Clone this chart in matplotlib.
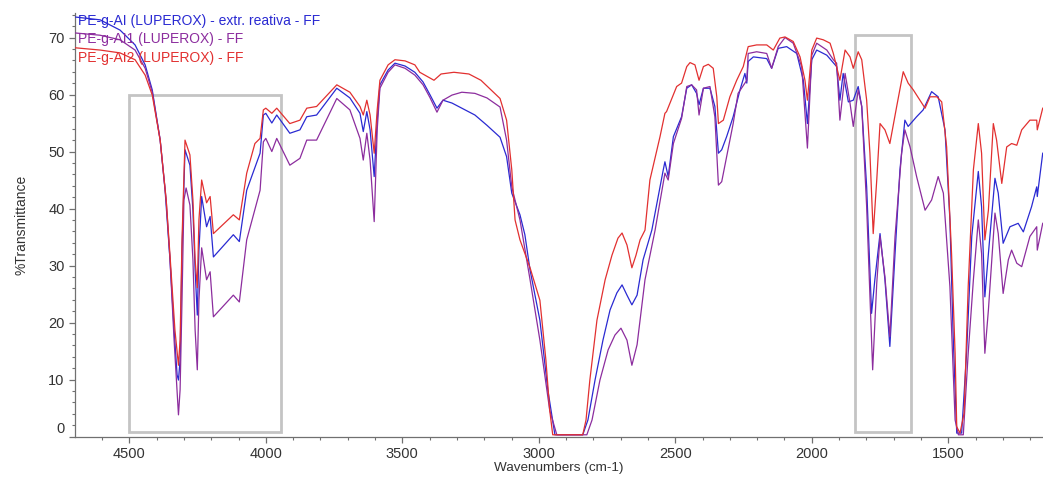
import matplotlib
matplotlib.use("Agg")
import matplotlib.pyplot as plt
from matplotlib.patches import Rectangle
from matplotlib.ticker import MultipleLocator
from matplotlib.transforms import ScaledTranslation

# ---- spectra: wavenumber (cm-1) and %T ----
wn_ai = [4699, 4607, 4534, 4479, 4442, 4416, 4387, 4369, 4351, 4336, 4325, 4320, 4314, 4307,
         4296, 4278, 4267, 4259, 4251, 4245, 4235, 4217, 4204, 4192, 4119, 4097, 4070, 4021,
         4009, 4000, 3978, 3960, 3912, 3875, 3850, 3814, 3740, 3692, 3655, 3643, 3630, 3618,
         3603, 3592, 3582, 3552, 3527, 3490, 3454, 3424, 3398, 3373, 3351, 3318, 3282, 3234,
         3190, 3142, 3118, 3099, 3069, 3051, 3032, 2996, 2967, 2941, 2839, 2820, 2794, 2765,
         2739, 2714, 2695, 2677, 2659, 2640, 2618, 2586, 2544, 2538, 2526, 2507, 2477, 2458,
         2440, 2422, 2413, 2397, 2373, 2355, 2342, 2330, 2312, 2288, 2263, 2245, 2238, 2233,
         2214, 2165, 2147, 2123, 2092, 2055, 2031, 2016, 2000, 1982, 1945, 1909, 1897, 1885,
         1866, 1848, 1830, 1817, 1799, 1781, 1769, 1750, 1732, 1714, 1695, 1677, 1659, 1647,
         1616, 1592, 1561, 1537, 1512, 1494, 1482, 1469, 1451, 1433, 1414, 1390, 1378, 1366,
         1353, 1329, 1317, 1299, 1274, 1244, 1225, 1195, 1176, 1174, 1154]
t_ai = [73.6, 73.1, 71.3, 68.7, 65.2, 60.8, 52.0, 43.2, 31.0, 18.7, 10.8, 9.9, 13.4, 32.7,
        50.3, 47.6, 39.7, 29.2, 21.3, 32.7, 42.1, 36.8, 38.6, 31.5, 35.4, 34.2, 43.2, 49.7,
        56.4, 56.7, 55.0, 56.4, 53.2, 53.8, 56.1, 56.4, 61.1, 59.4, 56.7, 53.5, 57.0, 53.8,
        45.6, 55.5, 61.7, 64.3, 65.5, 65.0, 63.9, 62.2, 59.9, 57.6, 59.0, 58.5, 57.6, 56.4,
        54.6, 52.5, 49.1, 42.7, 38.9, 35.4, 29.2, 20.4, 8.2, 0.3, 0.3, 2.9, 9.9, 16.9,
        22.2, 25.2, 26.6, 24.8, 23.1, 24.8, 31.0, 36.2, 46.8, 48.2, 45.6, 52.6, 56.1, 61.1,
        61.7, 60.2, 58.2, 61.1, 61.1, 57.9, 49.7, 50.3, 52.6, 56.1, 60.8, 63.7, 62.0, 65.8,
        66.6, 66.3, 64.6, 68.1, 68.4, 67.2, 62.5, 54.9, 66.1, 67.8, 66.9, 64.9, 59.0, 63.7,
        58.7, 59.0, 61.4, 57.9, 43.8, 21.6, 27.5, 35.6, 27.5, 15.8, 32.1, 46.8, 55.5, 54.4,
        56.1, 57.3, 60.5, 59.6, 53.8, 38.0, 17.5, 0.6, 0.6, 14.6, 35.1, 46.5, 40.3, 24.5,
        32.1, 45.3, 42.7, 33.9, 36.8, 37.4, 35.9, 40.3, 43.8, 42.1, 49.7]

wn_ai1 = [4699, 4607, 4534, 4479, 4442, 4416, 4387, 4365, 4351, 4336, 4320, 4314, 4307, 4300,
          4292, 4278, 4267, 4259, 4251, 4245, 4235, 4217, 4204, 4192, 4119, 4097, 4070, 4021,
          4009, 4000, 3978, 3960, 3912, 3875, 3850, 3814, 3740, 3692, 3655, 3643, 3630, 3618,
          3603, 3592, 3582, 3552, 3527, 3490, 3454, 3424, 3398, 3373, 3351, 3318, 3282, 3234,
          3190, 3142, 3118, 3099, 3069, 3032, 2996, 2960, 2934, 2824, 2805, 2776, 2746, 2721,
          2699, 2677, 2659, 2640, 2611, 2574, 2538, 2526, 2507, 2477, 2458, 2440, 2422, 2413,
          2397, 2373, 2355, 2342, 2330, 2312, 2288, 2270, 2238, 2233, 2202, 2165, 2147, 2123,
          2098, 2068, 2037, 2016, 2000, 1982, 1945, 1921, 1909, 1897, 1878, 1860, 1848, 1830,
          1817, 1799, 1777, 1762, 1750, 1732, 1714, 1695, 1671, 1659, 1640, 1616, 1585, 1561,
          1537, 1518, 1494, 1475, 1463, 1445, 1427, 1408, 1390, 1378, 1366, 1353, 1329, 1317,
          1299, 1280, 1268, 1249, 1231, 1201, 1176, 1174, 1154]
t_ai1 = [70.8, 70.4, 69.6, 67.8, 64.6, 60.4, 52.0, 41.5, 31.0, 16.9, 3.8, 8.2, 23.9, 41.5,
         43.6, 40.6, 31.0, 18.7, 11.7, 23.9, 33.1, 27.5, 28.9, 21.0, 24.8, 23.6, 34.5, 43.2,
         51.7, 52.3, 50.0, 52.3, 47.6, 48.8, 52.0, 52.0, 59.3, 57.3, 52.3, 48.5, 53.2, 48.5,
         37.7, 53.8, 61.1, 63.9, 65.2, 64.6, 63.4, 61.7, 59.4, 56.9, 59.0, 59.9, 60.4, 60.2,
         59.4, 57.8, 52.0, 43.8, 38.0, 27.5, 16.9, 4.6, 0.3, 0.3, 2.9, 9.9, 15.2, 17.8,
         19.0, 16.9, 12.5, 16.1, 27.5, 36.2, 46.2, 45.0, 51.4, 55.8, 61.4, 61.7, 60.8, 56.4,
         61.1, 61.4, 56.1, 44.1, 44.7, 49.1, 54.9, 60.2, 62.5, 67.2, 67.5, 67.2, 64.6, 68.4,
         70.0, 69.0, 64.9, 50.6, 66.9, 69.0, 67.8, 66.1, 65.5, 55.5, 63.7, 58.5, 54.4, 60.8,
         57.9, 40.3, 11.7, 26.9, 35.1, 28.0, 17.5, 35.1, 49.7, 53.8, 50.8, 45.6, 39.7, 41.5,
         45.6, 42.7, 26.3, 2.9, 0.3, 0.3, 14.6, 27.5, 38.0, 32.1, 14.6, 22.2, 39.2, 35.6,
         25.1, 31.0, 32.7, 30.4, 29.8, 35.1, 36.8, 32.7, 37.4]

wn_ai2 = [4699, 4607, 4534, 4479, 4442, 4416, 4387, 4365, 4351, 4333, 4320, 4314, 4307, 4296,
          4278, 4267, 4259, 4251, 4245, 4235, 4217, 4204, 4192, 4119, 4097, 4070, 4040, 4021,
          4009, 4000, 3978, 3960, 3912, 3875, 3850, 3814, 3740, 3692, 3655, 3643, 3630, 3618,
          3603, 3592, 3582, 3552, 3527, 3490, 3454, 3436, 3410, 3384, 3358, 3311, 3256, 3212,
          3175, 3142, 3118, 3099, 3087, 3069, 3032, 2996, 2974, 2960, 2949, 2839, 2827, 2813,
          2787, 2757, 2732, 2710, 2695, 2677, 2659, 2644, 2629, 2611, 2593, 2556, 2538, 2532,
          2495, 2477, 2458, 2446, 2428, 2413, 2397, 2379, 2361, 2348, 2342, 2324, 2300, 2275,
          2251, 2233, 2202, 2165, 2141, 2117, 2098, 2068, 2043, 2025, 2016, 2000, 1982, 1958,
          1933, 1921, 1897, 1878, 1860, 1848, 1830, 1817, 1799, 1787, 1775, 1762, 1750, 1732,
          1714, 1689, 1665, 1647, 1628, 1604, 1585, 1567, 1542, 1524, 1506, 1488, 1475, 1469,
          1457, 1442, 1427, 1408, 1390, 1378, 1366, 1353, 1335, 1323, 1304, 1286, 1268, 1249,
          1231, 1201, 1176, 1174, 1154]
t_ai2 = [68.2, 67.8, 67.3, 66.1, 63.4, 59.9, 52.0, 41.5, 31.8, 18.7, 12.5, 16.9, 34.5, 52.0,
         49.4, 41.5, 31.0, 26.1, 38.0, 45.0, 41.0, 42.1, 35.6, 38.9, 38.0, 46.2, 51.4, 52.3,
         57.3, 57.6, 56.7, 57.6, 54.9, 55.5, 57.6, 57.9, 61.7, 60.4, 57.9, 56.4, 59.0, 56.4,
         49.7, 57.3, 62.5, 65.2, 66.1, 65.9, 65.2, 63.9, 63.2, 62.5, 63.6, 63.9, 63.6, 62.5,
         60.8, 59.3, 55.5, 46.8, 38.0, 34.5, 29.6, 23.9, 13.4, 4.6, 0.3, 0.3, 2.9, 9.9,
         20.4, 27.5, 31.8, 34.8, 35.7, 33.6, 29.6, 31.8, 34.5, 36.2, 45.0, 52.6, 56.7, 57.0,
         61.4, 62.0, 64.9, 65.6, 65.2, 62.5, 64.9, 65.3, 64.6, 59.6, 54.9, 55.5, 59.6, 62.5,
         64.9, 68.4, 68.7, 68.7, 67.8, 69.9, 70.1, 69.3, 66.6, 62.5, 59.0, 67.8, 69.9, 69.6,
         69.0, 67.2, 62.5, 67.8, 66.6, 64.6, 67.5, 66.1, 59.0, 49.7, 35.6, 45.0, 54.9, 53.8,
         51.4, 57.9, 64.0, 62.0, 60.8, 59.0, 57.6, 59.6, 59.6, 58.7, 50.8, 32.1, 14.6, 1.7,
         0.6, 4.1, 26.3, 46.8, 54.9, 49.7, 34.5, 39.7, 54.9, 52.0, 44.4, 50.8, 51.4, 51.1,
         53.8, 55.5, 55.5, 53.8, 57.6]

labels = ["PE-g-AI (LUPEROX) - extr. reativa - FF",
          "PE-g-AI1 (LUPEROX) - FF",
          "PE-g-AI2 (LUPEROX) - FF"]
colors = ["#2a2ad2", "#8c2d9e", "#e23030"]

# highlighted regions (wavenumber span, %T span)
box_regions = [((3944, 4500), (0.8, 60.0)),
               ((1638, 1842), (0.8, 70.4))]

plt.rcParams["font.family"] = ["Liberation Sans", "DejaVu Sans"]
fig = plt.figure(figsize=(10.43, 4.78), dpi=100)
ax = fig.add_axes([75 / 1043, 1 - 436.5 / 478, 1 - 75 / 1043, (436.5 - 13) / 478])

for (x0, x1), (y0, y1) in box_regions:
    ax.add_patch(Rectangle((x0, y0), x1 - x0, y1 - y0, fill=False,
                           edgecolor="#c4c4c4", linewidth=2.0, zorder=1))

for wn, t, c in [(wn_ai, t_ai, colors[0]), (wn_ai1, t_ai1, colors[1]), (wn_ai2, t_ai2, colors[2])]:
    ax.plot(wn, t, color=c, linewidth=0.9, zorder=3)

ax.set_xlim(4699, 1153)
ax.set_ylim(0, 74.3)

ax.xaxis.set_major_locator(MultipleLocator(500))
ax.xaxis.set_minor_locator(MultipleLocator(100))
ax.yaxis.set_major_locator(MultipleLocator(10))
ax.yaxis.set_minor_locator(MultipleLocator(2))

for s in ["top", "right"]:
    ax.spines[s].set_visible(False)
for s in ["left", "bottom"]:
    ax.spines[s].set_color("#707070")
    ax.spines[s].set_linewidth(0.9)

ax.tick_params(which="both", direction="out", color="#707070", labelcolor="#333333",
               labelsize=10.5)
ax.tick_params(which="major", length=4, width=0.9)
ax.tick_params(which="minor", length=2.5, width=0.8)

ax.set_xlabel("Wavenumbers (cm-1)", fontsize=9.7, color="#333333", labelpad=1)
ax.set_ylabel("%Transmittance", fontsize=10, color="#333333", labelpad=14)

fig.canvas.draw()
for lab in ax.get_yticklabels():
    if lab.get_text() in ("0", "−0"):
        lab.set_transform(lab.get_transform() + ScaledTranslation(0, 0.09, fig.dpi_scale_trans))

for i, (lab, c) in enumerate(zip(labels, colors)):
    fig.text(78 / 1043, 1 - (21 + 18.3 * i) / 478, lab, color=c, fontsize=10,
             ha="left", va="center")

fig.savefig("out.png", dpi=100)
